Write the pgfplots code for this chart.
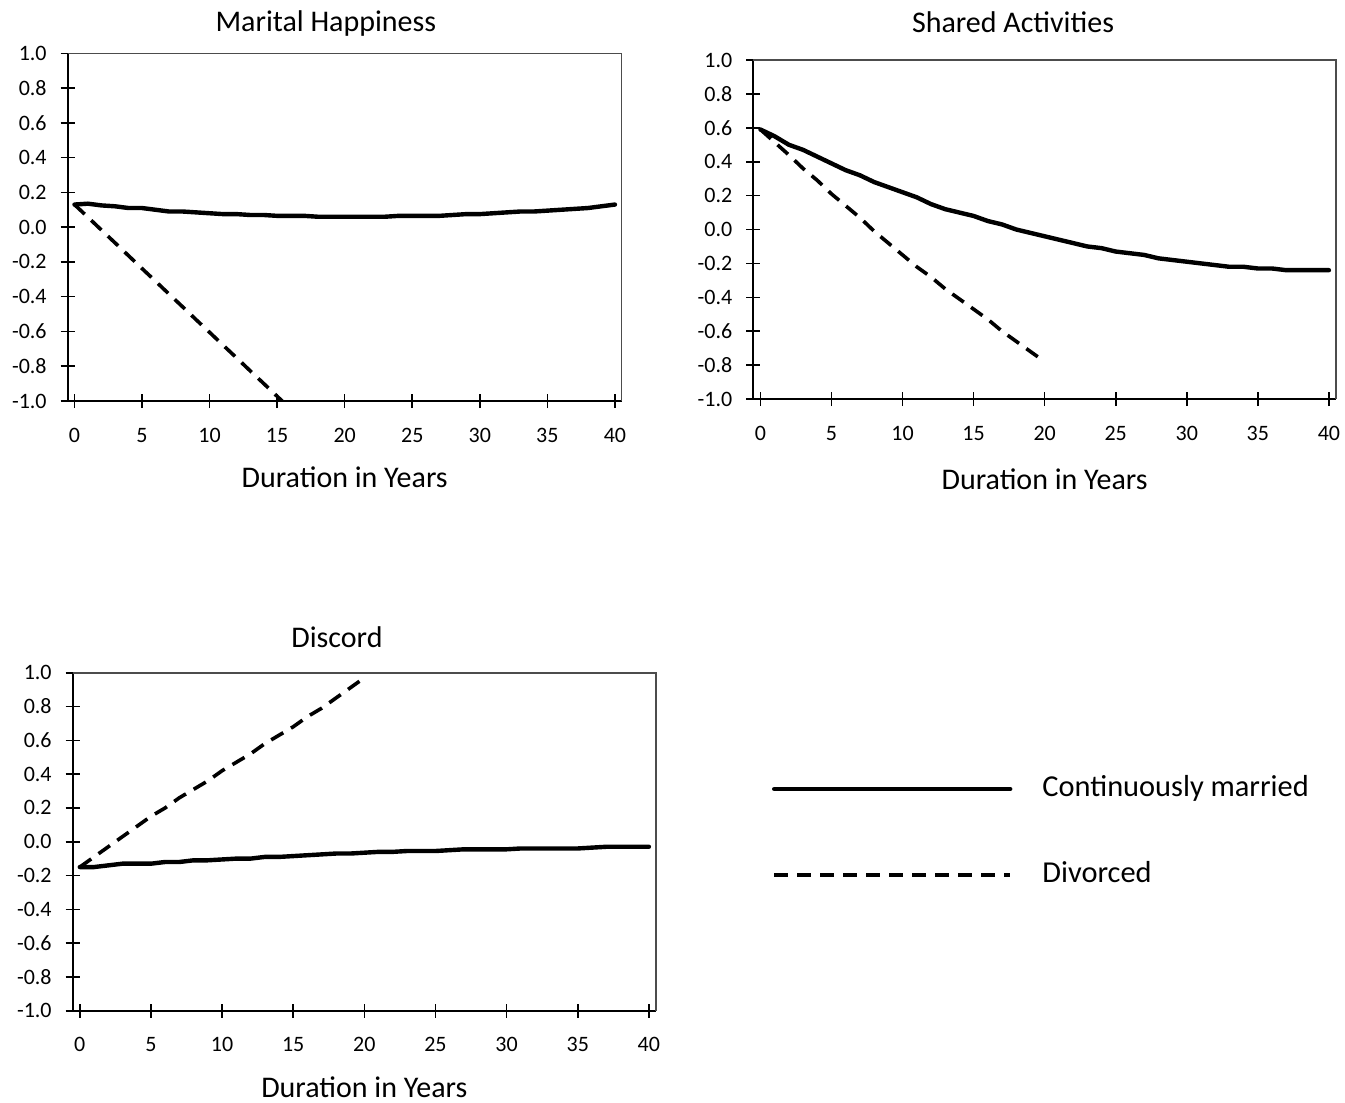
\documentclass[border=0pt]{standalone}
\usepackage{pgfplots}
\pgfplotsset{compat=1.18}
\usepackage{pgfplotstable}
\usepackage{fontspec}
\setmainfont{Carlito}

\pgfplotstableread{
t y
0 0.13
1 0.135
2 0.125
3 0.12
4 0.11
5 0.11
6 0.10
7 0.09
8 0.09
9 0.085
10 0.08
11 0.075
12 0.075
13 0.07
14 0.07
15 0.065
16 0.065
17 0.065
18 0.06
19 0.06
20 0.06
21 0.06
22 0.06
23 0.06
24 0.065
25 0.065
26 0.065
27 0.065
28 0.07
29 0.075
30 0.075
31 0.08
32 0.085
33 0.09
34 0.09
35 0.095
36 0.10
37 0.105
38 0.11
39 0.12
40 0.13
}\happyCM

\pgfplotstableread{
t y
0 0.13
1 0.057
2 -0.017
3 -0.09
4 -0.164
5 -0.238
6 -0.311
7 -0.385
8 -0.458
9 -0.532
10 -0.605
11 -0.679
12 -0.752
13 -0.826
14 -0.899
15 -0.973
16 -1.046
}\happyDV

\pgfplotstableread{
t y
0 0.59
1 0.55
2 0.50
3 0.47
4 0.43
5 0.39
6 0.35
7 0.32
8 0.28
9 0.25
10 0.22
11 0.19
12 0.15
13 0.12
14 0.10
15 0.08
16 0.05
17 0.03
18 0.00
19 -0.02
20 -0.04
21 -0.06
22 -0.08
23 -0.10
24 -0.11
25 -0.13
26 -0.14
27 -0.15
28 -0.17
29 -0.18
30 -0.19
31 -0.20
32 -0.21
33 -0.22
34 -0.22
35 -0.23
36 -0.23
37 -0.24
38 -0.24
39 -0.24
40 -0.24
}\sharedCM

\pgfplotstableread{
t y
0 0.59
1 0.515
2 0.44
3 0.36
4 0.29
5 0.21
6 0.14
7 0.07
8 -0.01
9 -0.08
10 -0.15
11 -0.22
12 -0.28
13 -0.35
14 -0.41
15 -0.47
16 -0.53
17 -0.60
18 -0.66
19 -0.72
20 -0.78
}\sharedDV

\pgfplotstableread{
t y
0 -0.15
1 -0.15
2 -0.14
3 -0.13
4 -0.13
5 -0.13
6 -0.12
7 -0.12
8 -0.11
9 -0.11
10 -0.105
11 -0.10
12 -0.10
13 -0.09
14 -0.09
15 -0.085
16 -0.08
17 -0.075
18 -0.07
19 -0.07
20 -0.065
21 -0.06
22 -0.06
23 -0.055
24 -0.055
25 -0.055
26 -0.05
27 -0.045
28 -0.045
29 -0.045
30 -0.045
31 -0.04
32 -0.04
33 -0.04
34 -0.04
35 -0.04
36 -0.035
37 -0.03
38 -0.03
39 -0.03
40 -0.03
}\discordCM

\pgfplotstableread{
t y
0 -0.15
1 -0.09
2 -0.03
3 0.03
4 0.09
5 0.15
6 0.20
7 0.26
8 0.31
9 0.36
10 0.42
11 0.47
12 0.52
13 0.58
14 0.63
15 0.68
16 0.74
17 0.79
18 0.85
19 0.91
20 0.97
}\discordDV

\newcommand{\tickfont}{\fontsize{11}{12}\selectfont}

\pgfplotsset{
  panel/.style={
    scale only axis,
    xmin=-0.5, xmax=40.5, ymin=-1, ymax=1,
    xtick={0,5,10,15,20,25,30,35,40},
    ytick={-1,-0.8,-0.6,-0.4,-0.2,0,0.2,0.4,0.6,0.8,1},
    axis lines*=left,
    axis line style={black, line width=1pt, -},
    tick align=center, major tick length=7pt,
    tick style={black, line width=0.8pt},
    /pgf/number format/assume math mode=true,
    xticklabel={\tickfont\pgfmathprintnumber{\tick}},
    yticklabel={\tickfont\pgfmathprintnumber[fixed,fixed zerofill,precision=1]{\tick}},
    yticklabel style={xshift=-3.5pt},
    xticklabel style={text height=7.6pt, text depth=0pt, yshift=-6pt},
    xlabel={Duration in Years},
    xlabel style={font=\fontsize{15}{18}\selectfont, at={(axis description cs:0.5,0)}, anchor=base},
    title style={font=\fontsize{15}{18}\selectfont, anchor=base},
    after end axis/.code={\draw[black!70, line width=0.8pt] (rel axis cs:0,1) -- (rel axis cs:1,1) -- (rel axis cs:1,0);},
  },
  cm/.style={black, line width=2.2pt, line join=round, line cap=round},
  dv/.style={black, line width=1.8pt, dash pattern=on 7pt off 4.5pt},
}

\begin{document}
\begin{tikzpicture}
\useasboundingbox (0,0) rectangle (672.5pt,-551.5pt);

% Marital Happiness
\begin{axis}[panel, at={(33.85pt,-200.5pt)}, anchor=south west,
  width=277pt, height=173.85pt,
  title={Marital Happiness},
  title style={at={(axis description cs:0.466,1)}, yshift=5.15pt},
  xlabel style={yshift=-43pt}]
\addplot[cm] table[x=t, y=y] {\happyCM};
\addplot[dv] table[x=t, y=y] {\happyDV};
\end{axis}

% Shared Activities
\begin{axis}[panel, at={(376.65pt,-199.5pt)}, anchor=south west,
  width=291.35pt, height=169.5pt,
  title={Shared Activities},
  title style={at={(axis description cs:0.4457,1)}, yshift=7.9pt},
  xlabel style={yshift=-45pt}]
\addplot[cm] table[x=t, y=y] {\sharedCM};
\addplot[dv] table[x=t, y=y] {\sharedDV};
\end{axis}

% Discord
\begin{axis}[panel, at={(36.35pt,-505.35pt)}, anchor=south west,
  width=291.65pt, height=169pt,
  title={Discord},
  title style={at={(axis description cs:0.453,1)}, yshift=6.85pt},
  xlabel style={yshift=-43.5pt},
  legend style={at={(axis description cs:1.1989,0.6973)}, anchor=north west,
    draw=none, fill=none, inner sep=0pt, outer sep=0pt, row sep=29pt,
    nodes={inner sep=0pt, text height=10.5pt, text depth=3.5pt, font=\fontsize{15.2}{18}\selectfont}},
  legend cell align=left,
  legend image code/.code={\draw[#1] (0pt,0pt) -- (118pt,0pt); \path (133pt,0pt);}]
\addplot[cm] table[x=t, y=y] {\discordCM};
\addlegendentry{Continuously married}
\addplot[dv] table[x=t, y=y] {\discordDV};
\addlegendentry{Divorced}
\end{axis}
\end{tikzpicture}
\end{document}
